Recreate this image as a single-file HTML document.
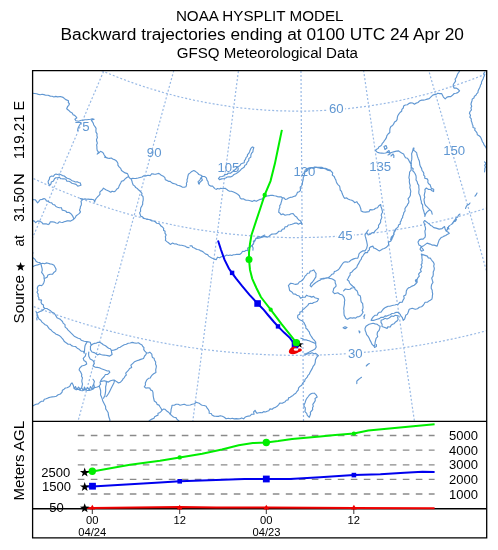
<!DOCTYPE html>
<html><head><meta charset="utf-8"><style>html,body{margin:0;padding:0;background:#fff}svg{display:block} svg{will-change:transform}</style></head><body>
<svg width="498" height="550" viewBox="0 0 498 550">
<defs><clipPath id="mc"><rect x="33" y="71" width="453" height="350"/></clipPath></defs>
<rect width="498" height="550" fill="#fff"/>
<g font-family="Liberation Sans, sans-serif" fill="#000">
<text x="175.9" y="21.4" font-size="15.2">NOAA HYSPLIT MODEL</text>
<text x="60.5" y="40" font-size="17.3">Backward trajectories ending at 0100 UTC 24 Apr 20</text>
<text x="176.8" y="58.2" font-size="15.1">GFSQ Meteorological Data</text>
</g>
<g clip-path="url(#mc)">
<path d="M-208.6,460.9 L-204,453.3 L-199.4,445.7 L-194.9,438.1 L-190.4,430.6 L-186,423.2 L-181.6,415.9 L-177.2,408.6 L-172.8,401.3 L-168.5,394.1 L-164.2,386.9 L-160,379.8 L-155.7,372.8 L-151.5,365.7 L-147.3,358.7 L-143.1,351.8 L-139,344.8 L-134.9,337.9 L-130.7,331.1 L-126.6,324.2 L-122.5,317.4 L-118.5,310.6 L-114.4,303.8 L-110.4,297.1 L-106.3,290.4 L-102.3,283.6 L-98.3,276.9 L-94.3,270.2 L-90.3,263.5 L-86.3,256.9 L-82.3,250.2 L-78.3,243.5 L-74.3,236.8 L-70.3,230.2 L-66.2,223.5 L-62.2,216.8 L-58.2,210.1 L-54.2,203.4 L-50.2,196.7 L-46.2,190 L-42.1,183.2 L-38.1,176.5 L-34,169.7 L-29.9,162.9 L-25.8,156.1 L-21.7,149.2 L-17.6,142.3 L-13.4,135.4 L-9.3,128.4 L-5.1,121.4 L-0.9,114.4 L3.4,107.3 L7.7,100.1 L12,93 L16.3,85.7 L20.7,78.4 L25.1,71 L29.6,63.6 L34.1,56 L38.7,48.4 L43.3,40.7 L48,32.9 L52.7,25 L57.5,17 L62.3,8.9 L67.3,0.7 L72.3,-7.7 L77.4,-16.2 L82.6,-24.8 L87.9,-33.6 L93.3,-42.6 L98.8,-51.8 L104.4,-61.2 L110.2,-70.9 L116.1,-80.8 L122.2,-90.9 L128.5,-101.4 L135,-112.2 L141.7,-123.4 L148.7,-135.1 L155.9,-147.2 L163.6,-160 L171.6,-173.4 L180.1,-187.6 L189.2,-202.8 L199.1,-219.3 M-88.7,522.1 L-85.1,513.8 L-81.7,505.7 L-78.2,497.6 L-74.8,489.6 L-71.4,481.6 L-68,473.8 L-64.7,465.9 L-61.4,458.1 L-58.1,450.4 L-54.8,442.7 L-51.6,435.1 L-48.3,427.5 L-45.1,420 L-41.9,412.5 L-38.7,405 L-35.6,397.6 L-32.4,390.2 L-29.3,382.8 L-26.1,375.5 L-23,368.2 L-19.9,360.9 L-16.8,353.6 L-13.7,346.4 L-10.6,339.2 L-7.6,331.9 L-4.5,324.8 L-1.4,317.6 L1.6,310.4 L4.7,303.2 L7.7,296.1 L10.8,288.9 L13.8,281.8 L16.9,274.6 L20,267.4 L23,260.3 L26.1,253.1 L29.1,245.9 L32.2,238.7 L35.3,231.5 L38.4,224.3 L41.5,217 L44.6,209.8 L47.7,202.5 L50.8,195.1 L53.9,187.8 L57.1,180.4 L60.2,173 L63.4,165.5 L66.6,158 L69.9,150.4 L73.1,142.8 L76.4,135.2 L79.7,127.5 L83,119.7 L86.3,111.8 L89.7,103.9 L93.1,95.9 L96.6,87.9 L100,79.7 L103.6,71.4 L107.1,63.1 L110.7,54.6 L114.4,46.1 L118.1,37.4 L121.9,28.5 L125.7,19.6 L129.6,10.4 L133.5,1.2 L137.6,-8.3 L141.7,-18 L145.9,-27.8 L150.2,-37.9 L154.6,-48.2 L159.1,-58.8 L163.8,-69.7 L168.6,-81 L173.5,-92.6 L178.6,-104.6 L184,-117.1 L189.5,-130.1 L195.3,-143.8 L201.5,-158.1 L208,-173.4 L214.9,-189.7 L222.5,-207.4 M38.5,566.3 L40.8,557.7 L43.2,549.1 L45.5,540.6 L47.8,532.2 L50,523.9 L52.3,515.6 L54.5,507.4 L56.8,499.2 L59,491.1 L61.2,483.1 L63.4,475.1 L65.5,467.1 L67.7,459.2 L69.8,451.3 L72,443.5 L74.1,435.7 L76.2,428 L78.3,420.2 L80.4,412.5 L82.5,404.9 L84.6,397.2 L86.7,389.6 L88.8,382 L90.8,374.5 L92.9,366.9 L94.9,359.3 L97,351.8 L99.1,344.3 L101.1,336.8 L103.2,329.3 L105.2,321.8 L107.3,314.2 L109.3,306.7 L111.3,299.2 L113.4,291.7 L115.5,284.2 L117.5,276.7 L119.6,269.1 L121.6,261.5 L123.7,254 L125.8,246.4 L127.9,238.7 L129.9,231.1 L132,223.4 L134.1,215.7 L136.3,207.9 L138.4,200.1 L140.5,192.3 L142.7,184.4 L144.8,176.5 L147,168.5 L149.2,160.5 L151.4,152.4 L153.6,144.3 L155.9,136 L158.1,127.7 L160.4,119.4 L162.7,110.9 L165.1,102.3 L167.4,93.7 L169.8,84.9 L172.3,76 L174.7,67 L177.2,57.9 L179.7,48.7 L182.3,39.3 L184.9,29.7 L187.6,20 L190.3,10 L193,-0.1 L195.8,-10.4 L198.7,-21 L201.7,-31.9 L204.7,-43 L207.8,-54.4 L211.1,-66.2 L214.4,-78.4 L217.8,-91 L221.4,-104.1 L225.1,-117.7 L229,-132 L233.1,-147.1 L237.5,-163.1 L242.2,-180.2 L247.2,-198.7 M170.5,592.8 L171.6,583.9 L172.8,575.1 L173.9,566.4 L175,557.8 L176.1,549.2 L177.2,540.7 L178.3,532.2 L179.4,523.8 L180.5,515.5 L181.6,507.2 L182.7,499 L183.7,490.8 L184.8,482.7 L185.8,474.6 L186.9,466.6 L187.9,458.6 L189,450.6 L190,442.6 L191,434.7 L192.1,426.9 L193.1,419 L194.1,411.2 L195.1,403.4 L196.1,395.6 L197.2,387.8 L198.2,380.1 L199.2,372.3 L200.2,364.6 L201.2,356.8 L202.2,349.1 L203.2,341.4 L204.2,333.7 L205.2,326 L206.2,318.3 L207.2,310.5 L208.2,302.8 L209.2,295.1 L210.3,287.3 L211.3,279.5 L212.3,271.7 L213.3,263.9 L214.3,256.1 L215.4,248.2 L216.4,240.3 L217.4,232.4 L218.5,224.4 L219.5,216.4 L220.5,208.4 L221.6,200.3 L222.7,192.1 L223.7,183.9 L224.8,175.7 L225.9,167.4 L227,159 L228.1,150.5 L229.2,142 L230.3,133.4 L231.5,124.7 L232.6,115.9 L233.8,107 L234.9,98 L236.1,88.8 L237.3,79.6 L238.5,70.2 L239.8,60.7 L241,51 L242.3,41.2 L243.6,31.2 L245,21 L246.3,10.6 L247.7,-0 L249.1,-10.9 L250.6,-22 L252.1,-33.5 L253.6,-45.2 L255.2,-57.3 L256.8,-69.9 L258.5,-82.8 L260.2,-96.3 L262.1,-110.3 L264,-125 L266,-140.5 L268.2,-157 L270.4,-174.6 L272.9,-193.6 M304.8,601 L304.7,592.1 L304.7,583.2 L304.6,574.4 L304.5,565.7 L304.5,557.1 L304.4,548.5 L304.4,540 L304.3,531.5 L304.2,523.1 L304.2,514.8 L304.1,506.5 L304.1,498.2 L304,490 L303.9,481.9 L303.9,473.7 L303.8,465.7 L303.8,457.6 L303.7,449.6 L303.7,441.6 L303.6,433.7 L303.5,425.8 L303.5,417.9 L303.4,410 L303.4,402.1 L303.3,394.3 L303.3,386.5 L303.2,378.7 L303.1,370.9 L303.1,363.1 L303,355.3 L303,347.5 L302.9,339.7 L302.9,332 L302.8,324.2 L302.8,316.4 L302.7,308.6 L302.6,300.8 L302.6,293 L302.5,285.1 L302.5,277.3 L302.4,269.4 L302.4,261.5 L302.3,253.5 L302.2,245.6 L302.2,237.6 L302.1,229.6 L302.1,221.5 L302,213.4 L302,205.2 L301.9,197 L301.8,188.7 L301.8,180.4 L301.7,172 L301.7,163.6 L301.6,155 L301.5,146.4 L301.5,137.7 L301.4,129 L301.3,120.1 L301.3,111.1 L301.2,102 L301.1,92.8 L301.1,83.5 L301,74.1 L300.9,64.5 L300.9,54.7 L300.8,44.8 L300.7,34.7 L300.7,24.4 L300.6,13.9 L300.5,3.2 L300.4,-7.8 L300.3,-19 L300.3,-30.5 L300.2,-42.4 L300.1,-54.6 L300,-67.2 L299.9,-80.3 L299.8,-93.9 L299.7,-108 L299.6,-122.9 L299.5,-138.5 L299.4,-155.1 L299.2,-172.8 L299.1,-192 M439,590.8 L437.7,582 L436.5,573.2 L435.2,564.5 L434,555.9 L432.7,547.3 L431.5,538.9 L430.3,530.4 L429,522.1 L427.8,513.7 L426.6,505.5 L425.5,497.3 L424.3,489.1 L423.1,481 L421.9,472.9 L420.8,464.9 L419.6,456.9 L418.4,448.9 L417.3,441 L416.2,433.1 L415,425.3 L413.9,417.4 L412.7,409.6 L411.6,401.8 L410.5,394 L409.4,386.3 L408.2,378.5 L407.1,370.8 L406,363.1 L404.9,355.4 L403.8,347.7 L402.6,340 L401.5,332.3 L400.4,324.6 L399.3,316.9 L398.2,309.2 L397.1,301.4 L395.9,293.7 L394.8,286 L393.7,278.2 L392.6,270.4 L391.4,262.6 L390.3,254.8 L389.2,247 L388,239.1 L386.9,231.2 L385.7,223.2 L384.6,215.2 L383.4,207.2 L382.2,199.1 L381,191 L379.9,182.8 L378.7,174.6 L377.5,166.3 L376.2,157.9 L375,149.5 L373.8,140.9 L372.5,132.3 L371.3,123.7 L370,114.9 L368.7,106 L367.4,97 L366.1,87.9 L364.8,78.7 L363.4,69.3 L362,59.8 L360.6,50.2 L359.2,40.4 L357.8,30.4 L356.3,20.2 L354.8,9.8 L353.2,-0.8 L351.7,-11.6 L350.1,-22.8 L348.4,-34.2 L346.7,-45.9 L344.9,-58 L343.1,-70.5 L341.3,-83.4 L339.3,-96.8 L337.3,-110.9 L335.1,-125.5 L332.9,-141 L330.5,-157.4 L328,-175 L325.2,-194 M570.6,562.5 L568.1,553.9 L565.7,545.4 L563.2,536.9 L560.8,528.5 L558.4,520.2 L556,512 L553.7,503.8 L551.3,495.7 L549,487.6 L546.7,479.6 L544.4,471.6 L542.1,463.7 L539.8,455.8 L537.6,448 L535.3,440.2 L533.1,432.4 L530.9,424.7 L528.7,417 L526.4,409.3 L524.2,401.7 L522,394.1 L519.9,386.5 L517.7,378.9 L515.5,371.4 L513.3,363.9 L511.2,356.3 L509,348.8 L506.8,341.3 L504.7,333.9 L502.5,326.4 L500.4,318.9 L498.2,311.4 L496,304 L493.9,296.5 L491.7,289 L489.6,281.5 L487.4,274 L485.2,266.5 L483.1,258.9 L480.9,251.4 L478.7,243.8 L476.5,236.2 L474.3,228.6 L472.1,221 L469.9,213.3 L467.7,205.5 L465.4,197.8 L463.2,190 L460.9,182.2 L458.6,174.3 L456.4,166.3 L454,158.3 L451.7,150.3 L449.4,142.1 L447,133.9 L444.6,125.7 L442.2,117.3 L439.8,108.9 L437.3,100.4 L434.8,91.7 L432.3,83 L429.8,74.2 L427.2,65.2 L424.6,56.1 L421.9,46.9 L419.2,37.5 L416.5,28 L413.7,18.3 L410.8,8.4 L407.9,-1.6 L404.9,-11.9 L401.9,-22.5 L398.8,-33.3 L395.6,-44.4 L392.3,-55.7 L388.9,-67.5 L385.4,-79.6 L381.8,-92.2 L378,-105.2 L374.1,-118.8 L370,-133.1 L365.7,-148.1 L361.1,-164 L356.2,-181 L350.9,-199.5 M697.1,516.4 L693.5,508.2 L689.9,500.1 L686.3,492.1 L682.8,484.1 L679.3,476.2 L675.8,468.4 L672.3,460.6 L668.9,452.9 L665.5,445.2 L662.1,437.6 L658.7,430 L655.4,422.4 L652.1,415 L648.8,407.5 L645.5,400.1 L642.2,392.7 L638.9,385.3 L635.7,378 L632.5,370.7 L629.2,363.5 L626,356.2 L622.8,349 L619.6,341.8 L616.4,334.6 L613.3,327.5 L610.1,320.3 L606.9,313.2 L603.8,306.1 L600.6,298.9 L597.4,291.8 L594.3,284.7 L591.1,277.6 L588,270.5 L584.8,263.4 L581.7,256.2 L578.5,249.1 L575.3,242 L572.2,234.8 L569,227.7 L565.8,220.5 L562.6,213.3 L559.4,206 L556.2,198.8 L552.9,191.5 L549.7,184.2 L546.4,176.9 L543.2,169.5 L539.9,162.1 L536.6,154.6 L533.2,147.1 L529.9,139.5 L526.5,131.9 L523.1,124.3 L519.7,116.5 L516.2,108.7 L512.7,100.9 L509.2,92.9 L505.6,84.9 L502,76.8 L498.4,68.6 L494.7,60.3 L491,51.9 L487.2,43.4 L483.4,34.7 L479.5,26 L475.5,17 L471.5,8 L467.4,-1.2 L463.2,-10.6 L459,-20.2 L454.6,-30 L450.2,-40.1 L445.6,-50.3 L441,-60.9 L436.2,-71.7 L431.2,-82.9 L426.1,-94.4 L420.8,-106.3 L415.3,-118.8 L409.5,-131.7 L403.5,-145.3 L397.2,-159.5 L390.5,-174.7 L383.3,-190.9 L375.5,-208.5 M-269.2,259.6 L-263.3,264.7 L-257.4,269.8 L-251.4,274.9 L-245.4,279.9 L-239.3,284.8 L-233.2,289.6 L-227,294.5 L-220.8,299.2 L-214.6,303.9 L-208.3,308.6 L-202,313.1 L-195.6,317.7 L-189.2,322.1 L-182.7,326.6 L-176.2,330.9 L-169.7,335.2 L-163.1,339.4 L-156.5,343.6 L-149.8,347.7 L-143.1,351.8 L-136.4,355.8 L-129.7,359.7 L-122.9,363.5 L-116,367.4 L-109.2,371.1 L-102.3,374.8 L-95.3,378.4 L-88.4,381.9 L-81.4,385.4 L-74.3,388.9 L-67.3,392.2 L-60.2,395.5 L-53.1,398.7 L-45.9,401.9 L-38.7,405 L-31.5,408 L-24.3,411 L-17,413.9 L-9.7,416.8 L-2.4,419.5 L4.9,422.2 L12.3,424.9 L19.7,427.4 L27.1,429.9 L34.5,432.4 L42,434.7 L49.4,437 L56.9,439.3 L64.4,441.4 L72,443.5 L79.5,445.5 L87.1,447.5 L94.7,449.4 L102.3,451.2 L109.9,452.9 L117.6,454.6 L125.2,456.2 L132.9,457.8 L140.6,459.2 L148.3,460.6 L156,462 L163.7,463.2 L171.4,464.4 L179.1,465.5 L186.9,466.6 L194.7,467.5 L202.4,468.5 L210.2,469.3 L218,470 L225.8,470.7 L233.6,471.4 L241.4,471.9 L249.2,472.4 L257,472.8 L264.8,473.1 L272.6,473.4 L280.4,473.6 L288.2,473.7 L296.1,473.8 L303.9,473.7 L311.7,473.6 L319.5,473.5 L327.3,473.2 L335.2,472.9 L343,472.6 L350.8,472.1 L358.6,471.6 L366.4,471 L374.2,470.3 L382,469.6 L389.7,468.8 L397.5,467.9 L405.3,467 L413,466 L420.8,464.9 L428.5,463.7 L436.2,462.5 L443.9,461.2 L451.6,459.8 L459.3,458.4 L467,456.9 L474.6,455.3 L482.3,453.7 L489.9,451.9 L497.5,450.2 L505.1,448.3 L512.7,446.4 L520.3,444.4 L527.8,442.3 L535.3,440.2 L542.8,438 L550.3,435.7 L557.8,433.4 L565.2,431 L572.6,428.5 L580,426 L587.4,423.3 L594.8,420.7 L602.1,417.9 L609.4,415.1 L616.7,412.2 L623.9,409.3 L631.1,406.3 L638.3,403.2 L645.5,400.1 L652.6,396.9 L659.7,393.6 L666.8,390.3 L673.8,386.9 L680.8,383.4 L687.8,379.9 L694.8,376.3 L701.7,372.6 L708.6,368.9 L715.4,365.2 L722.2,361.3 L729,357.4 L735.7,353.4 L742.4,349.4 L749.1,345.3 L755.7,341.2 L762.3,337 L768.9,332.7 L775.4,328.4 L781.9,324 L788.3,319.6 L794.7,315.1 L801.1,310.5 L807.4,305.9 L813.6,301.2 L819.9,296.5 L826,291.7 L832.2,286.8 L838.3,281.9 L844.3,277 L850.3,272 L856.3,266.9 L862.2,261.8 L868,256.6 L873.9,251.4 M-190.9,170.7 L-185.9,175.2 L-180.7,179.6 L-175.6,183.9 L-170.4,188.2 L-165.1,192.4 L-159.9,196.6 L-154.6,200.8 L-149.2,204.9 L-143.8,208.9 L-138.4,212.9 L-132.9,216.9 L-127.4,220.8 L-121.9,224.6 L-116.4,228.5 L-110.8,232.2 L-105.1,235.9 L-99.4,239.5 L-93.7,243.1 L-88,246.7 L-82.3,250.2 L-76.5,253.6 L-70.6,257 L-64.8,260.3 L-58.9,263.6 L-53,266.8 L-47,270 L-41,273.1 L-35,276.2 L-29,279.2 L-22.9,282.1 L-16.9,285 L-10.7,287.9 L-4.6,290.7 L1.6,293.4 L7.7,296.1 L14,298.7 L20.2,301.2 L26.4,303.7 L32.7,306.2 L39,308.6 L45.4,310.9 L51.7,313.2 L58.1,315.4 L64.5,317.6 L70.9,319.7 L77.3,321.7 L83.7,323.7 L90.2,325.6 L96.7,327.5 L103.2,329.3 L109.7,331 L116.2,332.7 L122.7,334.3 L129.3,335.9 L135.9,337.4 L142.4,338.8 L149,340.2 L155.6,341.5 L162.3,342.8 L168.9,344 L175.5,345.2 L182.2,346.2 L188.9,347.3 L195.5,348.2 L202.2,349.1 L208.9,350 L215.6,350.8 L222.3,351.5 L229,352.1 L235.7,352.7 L242.4,353.3 L249.1,353.7 L255.9,354.1 L262.6,354.5 L269.3,354.8 L276.1,355 L282.8,355.2 L289.6,355.3 L296.3,355.3 L303,355.3 L309.8,355.2 L316.5,355.1 L323.2,354.9 L330,354.6 L336.7,354.3 L343.4,353.9 L350.2,353.5 L356.9,353 L363.6,352.4 L370.3,351.8 L377,351.1 L383.7,350.3 L390.4,349.5 L397.1,348.6 L403.8,347.7 L410.4,346.7 L417.1,345.6 L423.7,344.5 L430.4,343.3 L437,342.1 L443.6,340.8 L450.2,339.4 L456.8,338 L463.4,336.5 L469.9,335 L476.5,333.4 L483,331.7 L489.5,330 L496,328.2 L502.5,326.4 L509,324.5 L515.4,322.5 L521.9,320.5 L528.3,318.4 L534.7,316.3 L541,314.1 L547.4,311.9 L553.7,309.6 L560,307.2 L566.3,304.8 L572.6,302.3 L578.8,299.8 L585.1,297.2 L591.3,294.5 L597.4,291.8 L603.6,289.1 L609.7,286.2 L615.8,283.4 L621.9,280.4 L627.9,277.5 L633.9,274.4 L639.9,271.3 L645.9,268.2 L651.8,265 L657.7,261.7 L663.6,258.4 L669.4,255 L675.2,251.6 L681,248.2 L686.8,244.6 L692.5,241.1 L698.2,237.4 L703.8,233.8 L709.4,230 L715,226.3 L720.5,222.4 L726.1,218.5 L731.5,214.6 L737,210.6 L742.4,206.6 L747.7,202.5 L753.1,198.4 L758.4,194.2 L763.6,190 L768.8,185.7 L774,181.4 L779.1,177 L784.2,172.6 L789.3,168.2 L794.3,163.7 M-113.1,82.4 L-108.8,86.1 L-104.5,89.8 L-100.2,93.5 L-95.8,97.1 L-91.4,100.7 L-87,104.2 L-82.5,107.7 L-78,111.1 L-73.5,114.5 L-68.9,117.9 L-64.3,121.2 L-59.7,124.5 L-55.1,127.7 L-50.4,130.9 L-45.7,134.1 L-41,137.2 L-36.2,140.3 L-31.4,143.3 L-26.6,146.3 L-21.7,149.2 L-16.9,152.1 L-12,154.9 L-7,157.7 L-2.1,160.5 L2.9,163.2 L7.9,165.9 L12.9,168.5 L18,171.1 L23,173.6 L28.1,176.1 L33.3,178.5 L38.4,180.9 L43.5,183.2 L48.7,185.5 L53.9,187.8 L59.2,190 L64.4,192.1 L69.7,194.2 L74.9,196.3 L80.2,198.3 L85.6,200.3 L90.9,202.2 L96.2,204 L101.6,205.8 L107,207.6 L112.4,209.3 L117.8,211 L123.2,212.6 L128.7,214.2 L134.1,215.7 L139.6,217.2 L145.1,218.6 L150.6,219.9 L156.1,221.3 L161.6,222.5 L167.2,223.7 L172.7,224.9 L178.3,226 L183.8,227.1 L189.4,228.1 L195,229.1 L200.6,230 L206.2,230.8 L211.8,231.6 L217.4,232.4 L223,233.1 L228.7,233.8 L234.3,234.4 L239.9,234.9 L245.6,235.4 L251.2,235.9 L256.9,236.3 L262.5,236.6 L268.2,236.9 L273.9,237.1 L279.5,237.3 L285.2,237.5 L290.9,237.6 L296.5,237.6 L302.2,237.6 L307.9,237.5 L313.5,237.4 L319.2,237.2 L324.8,237 L330.5,236.7 L336.2,236.4 L341.8,236 L347.5,235.6 L353.1,235.1 L358.8,234.6 L364.4,234 L370,233.4 L375.6,232.7 L381.3,232 L386.9,231.2 L392.5,230.3 L398.1,229.4 L403.7,228.5 L409.2,227.5 L414.8,226.5 L420.4,225.4 L425.9,224.2 L431.5,223 L437,221.8 L442.5,220.5 L448,219.1 L453.5,217.8 L459,216.3 L464.4,214.8 L469.9,213.3 L475.3,211.7 L480.8,210 L486.2,208.3 L491.6,206.6 L496.9,204.8 L502.3,203 L507.6,201.1 L513,199.1 L518.3,197.1 L523.5,195.1 L528.8,193 L534.1,190.9 L539.3,188.7 L544.5,186.5 L549.7,184.2 L554.9,181.9 L560,179.5 L565.1,177.1 L570.2,174.6 L575.3,172.1 L580.4,169.6 L585.4,167 L590.4,164.3 L595.4,161.6 L600.4,158.9 L605.3,156.1 L610.2,153.3 L615.1,150.4 L620,147.5 L624.8,144.5 L629.6,141.5 L634.4,138.5 L639.1,135.4 L643.8,132.3 L648.5,129.1 L653.2,125.9 L657.8,122.6 L662.4,119.3 L667,116 L671.5,112.6 L676.1,109.1 L680.5,105.7 L685,102.2 L689.4,98.6 L693.8,95 L698.1,91.4 L702.4,87.7 L706.7,84 L711,80.2 L715.2,76.5 M-29.5,-12.5 L-26.1,-9.5 L-22.7,-6.6 L-19.2,-3.7 L-15.7,-0.8 L-12.2,2.1 L-8.7,4.9 L-5.1,7.6 L-1.5,10.4 L2.1,13.1 L5.7,15.8 L9.4,18.4 L13,21 L16.7,23.6 L20.5,26.2 L24.2,28.7 L28,31.2 L31.8,33.6 L35.6,36 L39.4,38.4 L43.3,40.7 L47.2,43 L51.1,45.3 L55,47.5 L58.9,49.7 L62.9,51.9 L66.9,54 L70.9,56.1 L74.9,58.1 L78.9,60.1 L83,62.1 L87.1,64.1 L91.2,66 L95.3,67.8 L99.4,69.7 L103.6,71.4 L107.7,73.2 L111.9,74.9 L116.1,76.6 L120.3,78.2 L124.5,79.8 L128.7,81.4 L133,82.9 L137.2,84.4 L141.5,85.8 L145.8,87.2 L150.1,88.6 L154.4,89.9 L158.8,91.2 L163.1,92.5 L167.4,93.7 L171.8,94.8 L176.2,96 L180.5,97.1 L184.9,98.1 L189.3,99.1 L193.7,100.1 L198.2,101 L202.6,101.9 L207,102.7 L211.5,103.5 L215.9,104.3 L220.4,105 L224.8,105.7 L229.3,106.4 L233.8,107 L238.2,107.5 L242.7,108.1 L247.2,108.5 L251.7,109 L256.2,109.4 L260.7,109.7 L265.2,110.1 L269.7,110.3 L274.2,110.6 L278.7,110.8 L283.2,110.9 L287.7,111 L292.2,111.1 L296.8,111.1 L301.3,111.1 L305.8,111.1 L310.3,111 L314.8,110.8 L319.3,110.7 L323.8,110.4 L328.3,110.2 L332.8,109.9 L337.3,109.5 L341.8,109.2 L346.3,108.7 L350.8,108.3 L355.3,107.8 L359.8,107.2 L364.3,106.6 L368.7,106 L373.2,105.3 L377.6,104.6 L382.1,103.9 L386.5,103.1 L391,102.3 L395.4,101.4 L399.8,100.5 L404.2,99.5 L408.6,98.5 L413,97.5 L417.4,96.4 L421.8,95.3 L426.2,94.2 L430.5,93 L434.8,91.7 L439.2,90.5 L443.5,89.2 L447.8,87.8 L452.1,86.4 L456.4,85 L460.6,83.5 L464.9,82 L469.1,80.5 L473.4,78.9 L477.6,77.3 L481.8,75.6 L486,73.9 L490.1,72.2 L494.3,70.4 L498.4,68.6 L502.5,66.8 L506.6,64.9 L510.7,62.9 L514.8,61 L518.8,59 L522.8,56.9 L526.9,54.9 L530.8,52.8 L534.8,50.6 L538.8,48.4 L542.7,46.2 L546.6,44 L550.5,41.7 L554.4,39.4 L558.2,37 L562,34.6 L565.8,32.2 L569.6,29.7 L573.4,27.2 L577.1,24.7 L580.8,22.1 L584.5,19.5 L588.2,16.9 L591.8,14.2 L595.5,11.5 L599,8.8 L602.6,6 L606.2,3.2 L609.7,0.4 L613.2,-2.4 L616.6,-5.3 L620.1,-8.3 L623.5,-11.2 L626.9,-14.2 L630.2,-17.2 M72,-127.6 L74.4,-125.6 L76.7,-123.6 L79.1,-121.6 L81.5,-119.6 L83.9,-117.6 L86.4,-115.7 L88.8,-113.8 L91.3,-111.9 L93.8,-110 L96.3,-108.1 L98.8,-106.3 L101.3,-104.5 L103.9,-102.7 L106.5,-101 L109,-99.2 L111.6,-97.5 L114.3,-95.9 L116.9,-94.2 L119.5,-92.6 L122.2,-90.9 L124.9,-89.4 L127.6,-87.8 L130.3,-86.2 L133,-84.7 L135.7,-83.2 L138.5,-81.8 L141.2,-80.3 L144,-78.9 L146.8,-77.5 L149.6,-76.2 L152.4,-74.8 L155.2,-73.5 L158.1,-72.2 L160.9,-71 L163.8,-69.7 L166.6,-68.5 L169.5,-67.4 L172.4,-66.2 L175.3,-65.1 L178.2,-64 L181.1,-62.9 L184.1,-61.8 L187,-60.8 L190,-59.8 L192.9,-58.9 L195.9,-57.9 L198.9,-57 L201.9,-56.1 L204.8,-55.2 L207.8,-54.4 L210.9,-53.6 L213.9,-52.8 L216.9,-52.1 L219.9,-51.4 L223,-50.7 L226,-50 L229,-49.4 L232.1,-48.7 L235.1,-48.2 L238.2,-47.6 L241.3,-47.1 L244.4,-46.6 L247.4,-46.1 L250.5,-45.7 L253.6,-45.2 L256.7,-44.8 L259.8,-44.5 L262.9,-44.2 L266,-43.9 L269.1,-43.6 L272.2,-43.3 L275.3,-43.1 L278.4,-42.9 L281.5,-42.8 L284.6,-42.6 L287.7,-42.5 L290.8,-42.4 L293.9,-42.4 L297.1,-42.4 L300.2,-42.4 L303.3,-42.4 L306.4,-42.5 L309.5,-42.6 L312.6,-42.7 L315.7,-42.8 L318.8,-43 L321.9,-43.2 L325,-43.5 L328.1,-43.7 L331.2,-44 L334.3,-44.3 L337.4,-44.7 L340.5,-45.1 L343.6,-45.5 L346.7,-45.9 L349.8,-46.4 L352.9,-46.9 L355.9,-47.4 L359,-47.9 L362,-48.5 L365.1,-49.1 L368.1,-49.7 L371.2,-50.4 L374.2,-51.1 L377.3,-51.8 L380.3,-52.5 L383.3,-53.3 L386.3,-54.1 L389.3,-54.9 L392.3,-55.7 L395.3,-56.6 L398.3,-57.5 L401.2,-58.5 L404.2,-59.4 L407.2,-60.4 L410.1,-61.4 L413,-62.4 L416,-63.5 L418.9,-64.6 L421.8,-65.7 L424.7,-66.9 L427.6,-68 L430.4,-69.2 L433.3,-70.5 L436.2,-71.7 L439,-73 L441.8,-74.3 L444.6,-75.6 L447.4,-77 L450.2,-78.3 L453,-79.7 L455.8,-81.2 L458.5,-82.6 L461.3,-84.1 L464,-85.6 L466.7,-87.1 L469.4,-88.7 L472.1,-90.3 L474.8,-91.9 L477.4,-93.5 L480.1,-95.1 L482.7,-96.8 L485.3,-98.5 L487.9,-100.2 L490.5,-102 L493,-103.8 L495.6,-105.6 L498.1,-107.4 L500.6,-109.2 L503.1,-111.1 L505.6,-113 L508,-114.9 L510.5,-116.8 L512.9,-118.7 L515.3,-120.7 L517.7,-122.7 L520.1,-124.7 L522.4,-126.8 L524.8,-128.8 L527.1,-130.9" fill="none" stroke="#98b9e5" stroke-width="1.2" stroke-dasharray="2 2"/>
<path d="M32.9,93.2 L34.7,93.5 L36.6,93.8 L38.4,94.4 L40.2,94.7 L42.1,94.3 L43.9,94.6 L45.7,95.2 L48.1,95.2 L50.3,96.1 L52.2,96.3 L53.9,97 L55.7,96.4 L57.6,96.9 L60.3,96.5 L63.1,97.4 L64.4,98.5 L65.8,99.6 L68.5,100.7 L68.3,102.5 L69.5,103.8 L68.8,105.3 L67.6,106.5 L66.7,108.7 L68.5,110.2 L70.4,112 L72.2,112.9 L73.1,114.8 L74.7,115.4 L75.9,116.6 L76.8,117.9 L74.9,119.3 L75.9,120.8 L78.6,121.2 L81.3,120.3 L83.2,120.2 L85,119.7 L86.8,119.8 L88.7,119.5 L90.5,119.3 L92.3,118.8 L94.1,119.3 L91.4,120.3 L92.3,121.6 L93.2,123 L93.8,125 L95,126.6 L96.1,128.4 L95.9,130.3 L96,132.1 L97.1,133.9 L96.9,135.7 L97.4,137.5 L96.5,139.4 L96.7,141.3 L97.4,143.1 L96.6,144.9 L96.9,146.7 L96.9,148.6 L97.2,150.4 L98.5,152.2 L97.2,154.1 L98.7,153.1 L100.5,151.3 L102.4,152.2 L103.5,153.4 L104.2,155 L106,157.3 M104.6,157.2 L106.3,157.6 L107.8,158.1 L109.5,158.4 L111.3,158 L112.7,159 L114.3,159.6 L115.9,160.5 L117,161.7 L117.9,163.3 L117.9,165.2 L119.1,166.9 L120.7,168.4 L121.5,170.5 L123.3,171.7 L125.1,172.9 L127.5,173.6 L128.7,176.5 L129.6,178.1 L131.1,178.9 M131.1,178.9 L132.7,178.4 L134.4,178.5 L136,178.4 L138,178 L140,177.5 L142,177 L143.8,175.8 L146,175.9 L148,175.3 L150.2,175.6 L151.9,173.7 L154,174.1 L155.7,174.3 L157.3,173.7 L158.9,173.4 L161.3,175.3 L163.3,176.2 L164.9,177.7 L165.3,179.7 L167,180.4 L168.5,181.3 L170.2,181.3 L171.5,182.6 L172.9,183.4 L174.5,183.7 L176.1,184.2 L177.4,185.3 L179,185.5 L180.5,186.1 L182.2,187.1 L184.2,187.3 L185.9,186.7 L186.6,184.9 L186.4,183.2 L187.2,181.6 L187,179.8 L187.6,178.2 L187.8,176.5 L188.4,174.3 L190.2,172.9 L191.8,171.4 L193.8,170.5 L195.7,171.6 L197.4,172.9 L198.9,174.5 L201,175.3 L202.6,176.5 L204.6,176.5 L206.4,177.9 L207,180.1 L208.1,181.8 L208.3,183.7 L209.2,185.2 L210.7,186.1 L212.6,186 L213.7,187.5 L215,188.6 M131.1,178.9 L131.8,180.7 L132.3,182.5 L133,184.7 L134.8,186.1 L135.7,187.6 L137.3,188.4 L138.4,189.8 L139.7,190.8 L140.9,192.1 L142,193.4 L141.6,195.2 L143,196.5 L143.2,198.2 L143.2,200.2 L142.7,202.2 L142.7,204.2 L141.8,206.1 L140.8,207.8 L140.5,209.5 L140.6,211.2 L139.6,212.7 L140.2,214.5 L140.8,216.3 L142.5,216.9 L143.7,218.4 L145.6,218.7 L147.1,219.4 L148.8,219.5 L150.4,219.9 L151.9,220.9 L153.7,221 L155.2,221.8 L156.8,223.2 L158.9,223.5 L160.1,224.7 L161,226.1 L162.5,227.1 L163.7,228.4 L163.5,230.2 L165.1,231.3 L164.9,233.1 L166.1,234.9 L165.3,236.7 L165.7,238.5 L165.4,240.4 L166.9,241.6 L168.5,242.8 L170.3,244.4 L172.6,243.1 L174.5,244 L176.4,243.9 L178.1,244.7 L179.9,245.1 L181.7,245.2 L183.6,245.7 L185.4,246.3 L187,247.4 L189,247.6 M128.7,176.5 L126.8,177.5 L125.1,178.9 L123.6,180.6 L121.5,181.3 L120.7,183 L119.9,184.5 L119.1,186.1 L118.4,188.1 L116.6,189.3 L115.5,191 L114,191.8 L112.1,191.2 L110.7,192.2 L109.1,191.3 L107.5,190.5 L105.8,189.8 L103.4,188.1 L102.5,189.7 L101.1,190.8 L99.8,192.2 L100,194.3 L98.8,195.7 L97.4,197 L96,198.7 L95,200.6 M198.6,183.7 L198.1,181.6 L199.8,180.1 L201,177.7 L202.2,176.5 L201.4,178 L202.4,180 L201,181.3 L199.7,182.5 L199.1,184.2 M216,189.4 L217.5,188.5 L219.3,189 L220.8,188.2 L222.8,188.7 L225,188.2 L226.9,189.4 L228.1,190.6 L229.6,191.3 L231.4,191.2 L232.9,191.8 L234.6,192.5 L236.1,193.3 L237.7,194.2 L239.4,195.7 L240.1,197.8 L241.4,199 L243.2,198.8 L244.6,199.6 L246.1,200.2 L248.2,200.2 L250.2,200.7 L252.2,201.4 L254,200.4 L256.3,201.3 L258.2,200.2 L259.8,199.4 L261.6,199.1 L263,197.8 L264.6,197.2 L266.1,196.2 L267.8,195.9 L269.4,195.6 L271,195.3 L272.7,195.4 L274.3,195.8 L275.9,196 L277.5,196.6 L279.1,196.9 L280.9,196.7 L282.3,197.8 L284,197.8 L285.3,199.5 L287.1,199 L288.6,198.1 L290.1,197.4 L291.9,197.3 L293.6,196.5 L295.6,195.9 L296.7,194.2 L297.4,192.4 L299.1,191.7 L300.4,190.6 L300.4,188.9 L300.2,187.2 L301.6,185.8 L302.4,184.3 L302.4,182.6 L302.8,181 L303.2,179.4 L303.2,177.7 L304,176.1 L304.6,174.2 L304.5,172.1 L305.2,170.1 L306.7,169.4 L308,168.3 L309.5,167.7 L311.2,167.7 L312.9,168.2 L314.4,167 L316,167 L317.6,167.6 L319.2,167.9 L320.8,168.4 L322.5,168.4 L324.1,168.5 L325.7,168.9 L327.7,170.2 L330,170.8 M282.3,197.8 L282,199.5 L281.6,201.1 L281.1,202.7 L280.7,204.3 L279.7,205.7 L279.9,207.5 L279.1,209 L278.9,210.6 L278.7,212.3 L280.1,213.3 L281.1,214.7 L283.1,213.9 L285.1,215.2 L287.1,214.7 L289.2,214.8 L291.1,213.8 L293.1,213.5 L294.1,214.9 L295.2,216.2 L296.7,217.1 L297.6,218.6 L298.8,219.9 L300.4,220.7 L301.4,222.4 L302,224.3 L300.5,223.1 L298.4,224.2 L296.7,223.1 L295,223.1 L293.5,223.7 L291.9,224.3 L290.1,224.7 L288.3,225 L287.1,226.7 L285.1,226.8 L284.2,228.9 L282.3,229.2 L281.2,231.1 L278.8,231.2 L277.5,232.8 L275.8,233.9 L273.9,234 L271.9,234.1 L270.2,235.2 L268.9,236.5 L267.3,237.1 L265.4,236.4 L263.8,236.6 L262.2,237.2 L260.6,237.6 L259,238.1 L257.4,238.4 L255.8,238.8 L254.9,240.3 L253.4,241.2 L253.8,243 L252.7,244.4 L252.2,246 L253.1,248 L252.9,250.1 M190,245.8 L191.9,245.8 L192.8,247.5 L194.4,248 L195.7,248.9 L197.2,249.5 L198.9,249.7 L200.3,250.6 L201.8,251.1 L203.2,251.9 L204.5,253.1 L205.8,254.1 L207.6,254.6 L208.7,256.1 L210.1,257.1 L211.7,257.9 L214.1,259.1 L216.3,259.6 L217.5,257.2 L219.7,257.8 L221.3,256.7 L223.1,256.3 L224.9,256.1 L226.6,255 L228.6,255.5 L230.1,255 L231.8,255.5 L233.4,254.8 L235,254.7 L236.6,254.3 L238.2,254.3 L240,254.3 L241.4,253.1 L242.6,251.3 L244.5,251.5 L245.8,250.3 L247.8,250.7 L247.6,248 L250,247.3 L251.4,245.8 L253.3,244.4 L253.9,242.2 L255.1,240.6 L255.7,238.6 L257.5,237.4 L259,236.5 L260.8,237.2 L262.3,236.2 L264.7,235 M368.2,230 L366.6,232.4 L365,234.8 L365.3,236.4 L365.8,238 L366.2,239.6 L366.6,241.2 L367,243.2 L367.4,245.3 L367,246.9 L366.6,248.5 L365,250.9 L362.6,250.9 L360.2,252.5 L359,253.9 L358.6,255.7 L357.8,258.1 L355.7,258.2 L353.7,258.9 L352.1,259.6 L350.5,260.5 L349.2,261.8 L347.3,262.1 L345.7,261.8 L344.1,262.1 L342.5,263.7 L340.9,266.1 L339.3,268.6 L337.9,270.1 L336.1,271 L334.3,271.6 L333.8,273.7 L332,274.2 L330.5,275.8 L328.8,277.4 L326.4,278.2 L324.8,278.2 L323.2,278.2 L321.8,279.3 L320,279 M370.6,246.9 L373,246.1 L373.5,247.9 L375.4,248.5 L377.8,250.1 L379.4,250.9 L381,250.1 L382.5,249 L384.3,248.5 L386.1,247.6 L387.5,246.1 L388.7,244.6 L388.4,242.1 L390.7,241.2 L391.6,239.7 L392.3,238 L393.1,236.4 L393.7,234.8 L393.7,233 L394.8,231.6 L395.5,230 M308.9,303.7 L310.5,303.2 L312.3,303.5 L313.7,302.5 L315.6,302 L317.3,301.3 L318.6,298.9 L316.7,298.3 L314.9,297.7 L313.5,296.4 L311.7,297.1 L310.1,296.4 L308.2,296 L306.5,295.2 L305.2,297.1 L302.9,297.2 L300.5,298.1 L299.2,296 L296.9,295.2 L295.2,294.1 L293.3,294 L292.4,292.5 L291.1,291.4 L289.6,290.4 L289.3,288.8 L289,287.2 L288.4,285.6 L289.5,284.3 L290.8,283.2 L292.5,283.5 L294,284 L295.7,284.4 L297.9,283.9 L299.3,282 L301.3,281 L302.9,279.6 L304.1,278 L305,276.2 L306.5,274.8 L307.5,273.3 L309.5,273 L310.1,271.1 L312,270.8 L313.7,269.9 L314.9,271.8 L316.1,273.6 L315.9,275.2 L315.9,276.9 L314.9,278.4 L313.8,280.2 L312.5,282 L310.9,283.5 L310.1,285.6 L311.3,286.8 L312.4,285.4 L313.6,284.3 L314.9,283.2 L316.7,281.9 L318.6,280.8 L320.2,280.2 L321.4,278.7 L323.4,278.9 L325,278.4 L326.5,277.8 L328.2,277.9 M370.6,246.8 L369.4,248 L369.4,249.9 L368,251 L367.5,252.6 L365.5,252.5 L364.1,254 L363,255.8 L361.7,257.4 L361.3,259.1 L360.2,260.5 L359.3,262.1 L358.6,263.7 L357.4,265.4 L356.8,267.4 L355.2,268.7 L353.4,270.1 L352,271.9 L350.1,272.9 L350.1,275.2 L348.9,276.7 L348.2,278.3 L347.2,279.8 L348.9,281 L349.6,283 L351.1,284.8 L352.8,286.3 L354.5,287.5 L355.2,289.5 L357,290.8 L357.8,292.8 L358.2,294.8 L360.2,295.8 L360.7,297.7 L360.8,299.8 L361.2,301.9 L362.7,303.7 L362.8,305.5 L363.1,307.3 L362.8,308.9 L362.1,310.5 L363.1,312.1 L362,314 L360.7,315.7 L359,316.6 L357.1,316.9 L355.7,318.1 L353.9,317.7 L352.3,318.1 L350.5,317.7 L348.9,318.4 L347.5,319.3 L345.9,318.5 L345.1,316.9 L344.2,315.4 L344,313.8 L343.9,312.1 L344,310.5 L343.7,308.9 L343.9,307.3 L344.2,305.5 L344.5,303.7 L344.4,301.8 L344.8,300.1 L344.1,297.4 L342.4,295 L340,294.3 L337.8,292.8 L336.1,293.2 L334.5,293.6 L332.8,291.9 L333.4,290.2 L333.7,288.5 L334.9,287.3 L336.1,286.1 L335.9,284.4 L335.2,283 L335.1,280.8 L333.3,279.6 L331.7,278.7 L329.9,278.4 L328.2,277.9 M343.1,327.8 L345.1,326.8 L347,327.5 L345.1,328.7 L343.1,327.8 M359,330.9 L360,331.9 L359.5,332.8 L359,330.9 M218.5,178.6 L219.8,176.8 L222,176.5 L223.7,176 L224.9,174.2 L227,174.5 L228.3,173 L230.5,173.3 L232,172 L233.6,171.3 L234.6,169.9 L236,169 L236.7,167.1 L238.5,166.5 L240,165.5 L240.8,164 L242.5,163.3 L244.2,162.7 L244.4,160.7 L245.5,159.3 L246,157.6 L247.3,156.4 L247.5,154.6 L248.7,153.5 L249.5,152 L250.1,150.2 L250.9,148.4 L252.4,146.9 L253.8,147.6 L253.1,149.8 L252.9,151.8 L251.6,153.2 L250.9,154.9 L250.8,157.1 L248.9,158.5 L248.7,160.7 L247.1,162.3 L246.5,164.4 L244.9,165.2 L244.3,167 L242.9,168 L241.4,169 L240.3,170.4 L239,171.5 L237.4,172.7 L235.8,173.7 L234,174.5 L232.6,175.9 L231,176.8 L229,176.8 L227.2,177 L225.7,178 L224,178.5 L221.7,178.9 L219.5,179.6 L218.5,178.6 M32,198.1 L33,199.7 L35.4,199.8 L36.5,201.4 L37.6,202.9 L38.9,201.4 L40,199.7 L42.1,199.4 L44,198.6 L45.5,199.3 L46.4,200.9 L48.1,201.3 L49.6,202.5 L51.7,202.9 L52.9,204.5 L54.7,204.9 L55.9,206.5 L57.6,207.2 L59.3,207.8 L61.4,207.7 L62.2,210.1 L64,210.5 L65.7,211 L67,212.5 L69.1,212.4 L70.6,213.4 L71.9,214.9 L73,216.6 L73.8,219 M32,221.4 L33.8,220.7 L35.7,222.6 L37.4,221.1 L39.2,221.1 L41.6,222.2 L42.9,223.8 L44.9,223.8 L46.6,223.9 L48.1,224.6 L49.5,223.7 L50.2,221.9 L52.1,221.7 L54.2,222.1 L56.1,223 L57.8,223.3 L59.2,221.8 L60.9,222.2 L62.6,222.5 L64.1,221.8 L65.7,221.4 L67.3,220.7 L68.9,220.9 L70.6,221.1 L73,219.8 L73.8,219 M95,200.6 L94.7,202.1 L93.8,199.7 L91.4,199.2 L89.8,199.4 L88.2,199.1 L86.6,199.3 L85,198.9 L83.4,199.3 L81.8,198.9 L80.2,198.6 L82.6,199.7 L81,201.3 L81.4,203.2 L81.3,205 L80.4,206.8 L80.2,208.6 L79.5,210.1 L80.5,211.9 L79.4,213.4 L77.8,214.6 L76.2,215.8 L75.3,217.6 L73.8,219 M49.7,185.3 L48.4,183.4 L48.1,181.2 L49.3,179.4 L49.7,177.2 L51.2,176.1 L53.3,176.3 L54.5,174.8 L56,174.1 L57.7,174.5 L59.3,174 L61,174.7 L62.5,175.6 L64.3,176 L65.7,177.2 L67.2,178.3 L69,178.7 L70.6,179.6 L72.1,180.7 L73.8,181.2 L75.4,182 L77.1,181.7 L78.6,182.5 L80.2,182.9 L81,185.3 L79.4,185.7 L77.8,186.1 L76.1,184.4 L73.8,183.7 L71.9,183.3 L70.5,182.1 L68.9,181.2 L66.9,181.2 L65.9,179.3 L64.1,178.8 L62.3,178.8 L60.6,178.7 L59.3,177.2 L57.7,177.8 L55.9,177.7 L54.5,178.8 L53.5,181 L51.3,182 L51,183.9 L49.7,185.3 M32,257.1 L33.6,258.2 L35.1,259.4 L36,261.2 L37.6,262.3 L39.5,262.5 L41,263.8 L42.7,263.3 L44.6,263.8 L46.3,262.9 L48.1,263.2 L50,263.9 L52.1,264.2 L54,265.3 L55.1,267.2 L56.1,269.2 L55.7,271.1 L54.1,272.2 L52.6,274.1 L50.1,274.2 L47.9,275 L47.1,277.2 L45,278.2 M32,267.2 L33.9,266 L36,265.2 L37.7,264.9 L39.3,264.3 L41,263.8 M41,263.8 L41.4,266 L42,268.2 L42.3,270.2 L41.6,272.4 L43,274.2 L44.1,276.1 L44,278.2 L44.5,280.4 L43.9,282.4 L43,284.3 L41.6,285.6 L39.5,285.3 L38,286.3 L37.2,288.2 L37.9,290.4 L37,292.3 L38.2,294.1 L38,296.3 L38.9,297.7 L38.8,299.6 L41.6,300.1 L41,302.3 L41.8,304 L43.5,305 L43.5,307.2 L45,308.4 L46.9,308.5 L48.5,309.6 L50.1,310.4 L52.1,312.4 L54,313 L55.1,314.5 L56.1,316.1 L57,317.7 L58.5,318.5 L60.1,319.1 L61.3,320.3 L62.5,321.5 L63.1,323.1 L65,324.6 L65.1,327.1 L66.8,328.4 L68.1,330.1 L69.7,331.6 L71.2,333.2 L72.7,334.7 L74.2,336.2 L76.2,337.2 L78.2,338.2 L80,338.7 L81.2,340.2 L84.2,341.2 L87.2,341.6 M36,311.4 L36.7,313.1 L37.4,314.7 L38,316.4 L36.8,318 L37,320 M32,249.5 L31.5,251.5 L33,253 M45,308.4 L43.7,309.4 L42.6,310.5 L41,311.1 L39,312.1 L37,313.1 L37,316.1 L38.3,317.4 L39,319.1 L40.8,320.3 L42,322.1 L43.6,323.4 L45.1,324.7 L47,325.5 L48.1,327.1 L49.2,328.7 L50.8,329.7 L52.1,331.1 L53.3,332.2 L54.8,333.1 L56.1,334.2 L58,334.9 L59.7,335.8 L61.1,337.2 L62.2,338.5 L63.3,339.7 L64.1,341.2 L65.4,342.3 L66.8,343.2 L68.1,344.2 L70.1,344.2 L71.5,345.6 L73.2,346.2 L75.5,346.5 L77.2,348.2 L78.7,348.9 L80,350.1 L81.2,351.2 L83.3,351.3 L84.2,353.2 M87.2,341.6 L86.2,343.4 L85.2,345.2 L84.8,347.2 L84.6,349.2 L84.5,351.2 L84.2,353.2 M87.2,341.6 L90.2,342.2 L91.2,345.2 L90.4,346.4 M90.4,346.4 L91.5,345 L92.9,344 L94.5,343.4 L96.1,343.2 L98,342.3 L100.1,342.4 L101.8,343.5 L103.3,344.8 L105.5,345.7 L107.3,347.2 L108.6,348.3 L110.4,348.8 L111.3,350.4 L111.6,352.5 L112.1,354.5 L109.7,356.1 L107.7,355.6 L105.7,355.3 L104.1,355.1 L102.5,355 L100.9,354.5 L99.3,353.9 L97.5,354.9 L96.1,353.7 L94.1,352.6 L92,352 L90.4,349.6 L90.5,348 L90.4,346.4 M111.3,350.4 L113.3,350.2 L115.3,349.6 L117,349 L118.4,347.7 L120.2,347.2 L122.1,345.9 L124.2,344.8 L126.3,344.3 L128.2,343.2 L130.2,343 L132.2,342.4 L134.2,342.9 L136.2,343.2 L138.4,342.8 L140.2,344 L142,345 L142.8,346.5 L144,347.6 L143.7,349.4 L144.6,350.9 L146.6,352.8 M146.6,352.8 L148.3,353 L149.8,352.2 L151.8,354.1 L152,355.8 L152.4,357.4 L154.1,358.2 L154.4,360 L155.7,362 L155.5,364 L156.4,365.9 L156.1,367.9 L155.7,369.8 L155.9,372.4 L153.7,373.7 L152.3,374.9 L151.1,376.3 L150.3,378 L148.5,378.3 L146.6,380.2 L145.3,382.9 L145.5,385 L144.3,386.8 L145.9,388.1 L147.9,387.8 L149.8,388.1 L150.6,389.9 L152.4,390.7 L153,392.6 L153.1,394.6 L153.3,396.6 L153.7,398.5 L154.3,401 L156.4,402.4 L157.1,404.4 L159,405.1 L160,406.8 L161.1,408.5 L162,410.3 L163.3,409.1 L165.1,409.3 L167.1,411.3 L168.9,412.5 L170.1,414.3 L170.7,412.7 L171,411 L171.1,409.3 L171.7,407.3 L172.1,405.2 L174.2,405.2 L176.1,404.2 L178.2,404.3 L180.1,405.2 L182.1,404.7 L184.1,404.2 L186.1,405.1 L188.2,405.2 L190.3,405 L192.2,404.2 L194.5,403.7 L196.2,402.2 L199.2,403.2 L200.6,404.4 L202.2,405.2 L204.2,405.5 L206.2,406.2 L207,407.9 L208.2,409.3 L209.2,411.2 L209.2,413.3 L211.2,413.5 L212.2,415.3 L214.2,416.1 L216.3,416.3 M170.1,414.3 L171.5,415.3 L172.7,416.4 L174.1,417.3 L176,417.6 L176.9,419.1 L178.1,420.3 L180,422 M162,410.3 L160.9,411.6 L159.6,412.7 L158,413.3 L158,415.3 L156.1,415.9 L154.6,416.7 L154,418.3 L151.9,419.1 L150,420.3 L148,422 M146.6,352.8 L145.9,354.6 L144.6,356 L143.5,358.5 L140.7,359.4 L138.8,360.1 L136.8,360.7 L134.6,361.7 L132.9,363.3 L130.9,365.2 L131.7,367.4 L129.6,368.5 L128.7,369.8 L127.6,371.1 L125.7,373.1 L126.3,375 L125.1,376.1 L124.4,377.6 L123.1,378.7 L122.4,380.2 L120.5,382.2 L118.5,382.9 L116.5,381.6 L114.6,380.2 L113.9,382.9 L112.6,385.5 L111.3,388.1 L110,390.7 L108.7,393.3 L107.4,395.3 L106.1,396.6 M86,353.4 L85.3,356.2 L83.2,358.3 L83.9,360.4 L86,361.8 L86.7,363.9 L84.6,365.3 L81.8,366 L79.7,368.1 L79.1,370 L80.4,371.6 L81.8,374.4 L81.5,376.3 L82.5,377.9 L82,379.6 L81.8,381.4 L82.5,384.2 L81.8,387 M88.8,352 L88.6,354.1 L88.8,356.2 L90.2,359 L93,360.4 L94.4,363.2 L93,366 L95,367.1 L97.2,367.4 L99.4,367.8 L101.4,368.8 L103.5,369.5 L105.6,370.2 L107.3,371 L109.1,370.9 L109.8,372.3 L107.7,374.4 L105.4,374.5 L104.2,376.5 L102.1,378.6 L100.7,380.7 L100,382.8 L100.7,384.2 L99.3,385.6 M101.4,381.4 L104.2,380.7 L106.3,381.4 L106.3,384.2 L105.6,387 L105.7,389.1 L105.6,391.2 L105.3,393.3 L104.9,395.4 L103.5,398.2 M106.3,381.4 L108.4,382.1 L110.5,380.7 L113.3,380 L114.6,380.2 M93,379.3 L94.4,381.4 L93.7,384.2 L94.4,387 M32,406.2 L34,405.3 L36,404.2 L38.3,403.9 L40,402.2 L41.5,401.3 L43.4,401.2 L44.3,399.2 L46.1,398.8 L48.1,397.9 L50.1,397.2 L52.1,396.9 L54.1,396.8 L56.3,396.2 L58.1,394.8 L60.4,394 L62.1,392.2 L62.4,390.2 L64.1,389.2 L65.4,388 L67.1,387.8 L68.6,387.1 L70,386 L70.7,384.2 L72,382.8 L73.4,385.6 L74.1,388.4 L76.2,389.8 L78.4,389.3 L80.4,390.5 L82.6,390.7 L84.6,389.8 L87.4,390.5 L89.5,390.4 L91.6,389.8 L93.2,389 L94.4,387.7 L97.2,387 L99.3,386.3 L100,388.4 L100.6,390.5 L100.7,392.6 L100.5,394.8 L101.4,396.8 L102.2,398.9 L102.8,401 L104.2,403.8 L105.6,406.6 L105.7,408.9 L107,410.8 L108.2,412.7 L108.4,415 L109.1,417.8 L109.9,419.8 L109.8,422 M74,388.5 L75.5,386.5 L76.1,388.1 L77,389.5 L78.5,387 L79.6,388.3 L80,390 L81.5,387.5 L83,390 L84.1,388.7 L84.5,387 L85.1,388.6 L86,390 L87.5,387.5 L88.7,388.8 L89,390.5 L89.8,388.5 L90.5,386.5 L91.4,387.9 L92,389.5 L93,388 L92.7,386.1 L93.5,384.5 M308.9,303.7 L307.8,305.3 L306.4,306.6 L304.2,308.7 L302.6,309.7 L302,311.5 L299.9,312.1 L299.8,314.2 L297.8,315.2 L297.6,317.5 L298.7,319.1 L300.3,319.9 L302,320.7 L304.2,322.9 L304.9,324.6 L305.8,326.2 L305.9,328.2 L307.5,329.5 L308.3,330.9 L309.4,332.1 L309.7,333.8 L310.7,335.5 L311.8,337.1 L312.7,338.6 L314,339.8 L315.7,342 L315.7,344.8 L316.2,346.9 L315.1,349.1 L312.9,350.2 L310.7,351.3 L308.6,352.4 L306.4,353.5 L304.2,354 L306,354.6 L307.9,353.7 L310,353.6 L312,352.8 L314,353.8 L315.8,353.4 L317.3,354.6 L318.4,355.7 L317.3,356.5 L316.3,358.1 L315.4,360 L315.3,362.1 L314.7,364.3 L313.3,366.1 L312.4,368.1 L311.3,370.1 L310.2,372 L309.3,374.1 L308,375.3 L307.4,376.9 L306.3,378.2 L305.1,379.4 L304.7,381.2 L303.3,382.2 L302.4,383.7 L301.7,385.2 L300.2,386.2 L298.6,387.9 L298.2,390.2 L296.9,391.5 L295.8,393.2 L294.2,394.2 L293,395.4 L291.6,396.3 L290.2,397.2 L288.6,397.9 L288.1,399.9 L286.2,400.2 L285.2,401.7 L283.7,402.4 L282.2,403.3 L279.8,403.1 L278.5,404.8 L277.1,406.3 L275.5,407.4 L273.6,408 L272.1,409.3 L270,408.9 L268.8,410.8 L267.1,411.3 L265.5,412 L263.6,411.6 L262.1,412.7 L260.4,412.6 L258.7,412.7 L257.1,413.3 L255.9,412 L255.1,410.3 L253.6,412 L254.1,414.3 L251.7,414.2 L250,415.9 L248.2,416.1 L246.6,416.5 L245,417.3 L243.6,418.8 L241.6,417.9 L240,418.7 L238.1,418.9 L236.2,418.6 L234.3,418.9 L232.3,418.3 L230.3,418.7 L228.3,418.3 L226.1,418.7 L224.3,417.3 L222.4,416.3 L220.3,415.7 L218.4,416.4 L216.3,416.3 M300.9,338.2 L302.6,338.8 L304.2,339.8 L305.9,339.8 L307.5,340.4 L309.2,340.8 L310.7,341.5 L313.5,342.6 L315.7,343.7 M314.3,393.2 L316.3,395.2 L317.2,397.1 L315,398.4 L315.3,400.2 L314.7,401.7 L313.7,403.1 L312.8,404.4 L313.3,406.3 L312.5,407.8 L312.7,409.7 L311.5,411 L310.3,412.3 L310.6,414.1 L309.9,415.7 L309.3,417.3 L307.3,415.3 L306.7,413.3 L304.9,411.6 L305.3,409.3 L305.2,407.6 L303.8,406.1 L304.3,404.3 L305.1,402.7 L305.6,400.9 L306.3,399.2 L307.2,397.8 L308.3,396.5 L309.3,395.2 L310.6,394 L312.3,393.2 L314.3,393.2 M366.3,366 L367.6,364.5 L369.3,363.5 M356.8,383.6 L356.8,381.2 L358.5,379.5 L360,378.4 L361.5,377.3 M374.5,347.5 L376.3,346.6 L376.5,344.5 M304.4,171.7 L306.5,171.5 L307.7,170.1 L308.7,168.5 L310.4,168.6 L311.9,167.6 L313.8,168.5 L315.3,167.4 L316.9,167.4 L318.6,167.4 L320.2,167.2 L321.8,167.4 L323.4,168 L325.2,168.2 L326.8,168.9 L328.4,169.5 L330.2,170.1 L331.4,171.5 L332.7,172.8 L332.3,175.1 L334.2,176.5 L334.9,178.3 L335.8,179.9 L336.3,181.7 L337,183.4 L338.2,184.8 L339.6,186.2 L340,188 L340.2,190 L341.5,191.4 L342.1,193.3 L342.8,195 L343.6,196.8 L344.7,198.3 L346.7,197.9 L348,199 L349.8,199.8 L351.8,200.2 L353.5,201.2 L354.6,202.7 L356.9,201.7 L357.8,203.4 L359.2,204.8 L360,206.6 L360.8,208.7 L361.1,211 L363.2,211.9 L365.5,212.1 L367.2,211.9 L369,211.7 L370.1,209.6 L372,209.9 L374,209.5 L375.6,208.3 L377.5,207.7 L378.8,205.8 L380.7,204.5 L381,206.7 L381.8,208.8 L382.2,210.5 L382.6,212.2 L381.6,213.8 L381.2,215.4 L381.9,217.1 L381.3,218.7 L380.6,220.3 L380.7,221.9 L379.8,223.7 L378.5,225.3 L378.6,227.4 L377,229.1 L375.3,230.6 L374.1,232.4 L372,232.8 L370.3,234.3 L368.2,235 L366.6,232.4 M396,121.2 L394.5,122.1 L393.7,123.9 L392.6,125.5 L390.9,126.6 L390,128.4 L389.8,130.4 L389.8,132.5 L388.1,134 L386.9,135.6 L386.4,137.6 L385.4,139.4 L384.3,140.7 L383.5,142.1 L382.3,143.3 L381.7,144.9 L380.5,146.1 L378.8,146.9 L378.1,148.6 L376.6,149.3 L375.4,150.4 L377.2,152.2 L379.4,152.9 L381.7,153.1 L383.6,153.3 L385.5,153 L387.8,152.2 L390,153.1 L392.2,152.3 L394.4,151.6 L396.5,151.1 L398.7,150.9 L400.1,152.1 L401.6,153.1 L403.6,154 L404.5,156 L405.5,157.8 L407.5,158.2 L408.9,160.4 L409.6,161.9 L410.4,163.3 L411.4,165.3 L411.1,167.6 L411.2,170.1 L409.6,172 L409.5,174 L409.2,175.9 L408.9,177.8 L409.5,179.7 L409.3,181.7 L409.6,183.6 L410.2,185.5 L409.8,187.6 L410.4,189.5 L410.8,191.4 L410.4,193.4 L410.4,195.3 L409.4,197.1 L408,198.8 L408.9,201.1 L408.7,202.8 L407.7,204.1 L407.1,205.7 L406,206.9 L404.9,208.7 L405.1,211 L403.8,212.7 L403.5,214.4 L402.7,215.9 L402.6,217.6 L401.5,219 L401.2,220.7 L400.2,222.1 L400.3,224 L398.5,225 L398.2,226.9 L396.7,228.1 L395.4,229.5 L394.5,231 L393.9,232.5 L394.1,234.4 L392.8,235.6 L391.5,236.8 L391,238.3 L390.6,239.9 M384,146.6 L386,145.5 L387,148 L385,149.5 L384,146.6 M387,152 L389,150.5 L389.5,152.2 L390,154 L388,155 M391,156 L393,154 L393.9,155.6 L393.8,157.5 M396,121.2 L397.1,119.6 L397.3,117.6 L397.8,115.7 L398.8,114.1 L400,112.5 L401.6,111.3 L401.9,109.4 L403.3,108 L403.6,106.1 L405.3,105 L407.4,104.8 L409,103.4 L410.8,102.9 L412.6,103 L414.5,104.2 L416.2,103.1 L418,102.5 L419.9,100.7 L421.7,100.1 L423.5,100.1 L425.3,99.8 L427.2,99.1 L429.2,98.6 L430.7,97.1 L432.5,95.3 L434.2,94.6 L436.1,94.4 L437.8,93.2 L439.7,93.6 L441.6,93.5 L442.5,95.3 L443.4,97.1 L445.2,98.9 L447,97.1 L448.8,96.6 L450.8,96.6 L452.4,95.3 L454.2,93.5 L456,93.2 L457.8,92.6 L459.6,90.8 L457.8,89 L456.1,88.1 L454.2,88.1 L453.2,86.4 L453.3,84.5 L454.4,82.8 L455.6,81.2 L455.1,79 L456.4,77.4 L457,75.5 L457.8,73.6 L458.8,72.3 L459.6,70.9 M485,71.8 L483.6,73.3 L484.5,75.5 L483.6,77.2 L483.1,79 L482.3,80.4 L481.5,81.9 L481.5,83.6 L480.5,85 L480.2,86.6 L479.5,88.1 L478.7,89.5 L478.1,91 L477.9,92.7 L476.6,93.9 L475.9,95.3 L474.4,96.2 L473.9,98.1 L472.3,98.9 L472,100.7 L471.4,102.5 L470.9,104.3 L471.7,106.2 L470.9,107.9 L471.5,109.8 L470.1,111.5 L469.4,113.3 L470.5,115.2 L469.8,117.2 L471.3,118.8 L471.2,120.7 L471.9,122.4 L472.3,124.2 L473,125.7 L473,127.5 L475.1,128.2 L474.7,130.2 L475.9,131.4 L477,132.8 L477.4,134.8 L479.1,135.8 L480.5,137 L481.3,138.7 L481.9,140.2 L482.4,141.8 L483.4,143 L483.9,144.6 L484.9,145.9 L486.1,147.6 L486.7,149.5 M484.5,161.9 L486,163.4 L484.7,165.4 L485.5,167 L484.8,168.6 L484.8,170.3 L484.5,172 M413.3,148 L412.9,149.8 L412.5,151.6 L411.6,153.7 L411.8,156 L411.8,158 L411.7,159.9 L411.1,161.8 L411.4,163.7 L410.9,165.7 L411.8,167.6 L413.2,168.7 L412.7,170.8 L414,172 L415.1,173.8 L416,175.7 L416.2,177.8 L416,179.9 L417.2,181.7 L417.6,183.6 L418.8,185.4 L418.8,187.5 L419.1,189.5 L418.8,191.5 L418.9,193.4 L419.8,195.3 L420.5,197.2 L420.6,199.2 L421.3,201.1 L421.4,203.1 L422.6,204.9 L422.7,206.9 L423,208.9 L423.7,210.8 L424.2,212.7 L424.8,214.5 L424.9,216.4 L425.4,214.4 L426.4,212.7 L427.8,211.3 L430,209.8 L431.5,211.3 L432.2,214.2 L431.5,211.3 L430,209.8 L428.5,208.4 L427.1,206.9 L425.6,205.5 L424.6,203.4 L424.2,201.1 L424,199.2 L424.8,197.2 L424.2,195.3 L424.6,193.4 L425.1,191.5 L424.9,189.5 L426.4,188 L428.3,189.4 L430.7,189.5 L432,190.8 L433.6,191.6 L433.7,189.3 L431.3,188.4 L430.7,186.5 L430.1,184.8 L428.6,183.7 L427.8,182.2 L428,180.3 L427.2,178.9 L424.7,178.3 L424.9,176.4 L423.7,175.2 L423.8,173.3 L423.1,171.8 L422,170.5 L421.6,168.4 L420.5,166.6 L419.8,164.7 L419.6,162.7 L419.2,160.7 L418.4,158.9 L417.6,156.7 L416.9,154.5 L416.7,152.8 L415.5,151.6 L413.6,150.3 L414,148 L413.3,148 M447,229.5 L448.3,228.4 L448.5,226.5 L450,225.5 M451,224.5 L452.7,223.4 L453.6,221.4 L455,220 L455.9,218.2 L457.7,217.1 L458.4,215.2 L460,214 M465.5,208.5 L466.2,206.8 L467.1,205.2 L468.9,204.4 L470,203 M475,196.2 L476.2,194.7 L477,193 M446.5,231 L447.5,229.4 L447.5,227.5 L449,229 M452.5,223 L453.8,221.8 L455.5,221.1 L456.5,219.5 M424.6,220.5 L426.3,221.8 L428.1,223.1 L429.5,224.1 L430.6,225.4 L432.1,226.1 L433.8,227.6 L436.1,228.1 L439.1,229.1 L442.1,228.6 L443.2,227.5 L444.6,226.6 L445.1,229.1 L446.1,231.1 L448.7,232.6 L449.2,233.6 L447.1,234.6 L445.7,235.5 L444.1,236.1 L442.6,236.9 L441.1,237.6 L440.1,238.8 L439.1,240.1 L438.1,243.1 L437.1,246.1 L434.1,245.1 L432,245.1 L430.1,244.1 L427.1,243.1 L425.1,244.6 L423.1,246.1 L421,247.1 L420,249.2 L421.5,251.2 L423.6,250.2 L422,248 L420.9,246.1 L419,245.1 L418,242.1 L419.5,239.6 L421.3,239.1 L423.1,239.1 L425.1,237.1 L425.4,235.1 L425.1,233.1 L424.9,231 L425.6,229.1 L425.3,227.1 L424.6,225.1 L424.3,223.5 L423.6,222 L424.6,220.5 M371.1,320.3 L372.1,318.3 L373.4,316.6 L375.1,315.3 L377.1,315.2 L377.9,313.5 L379.1,312.3 L381,312.1 L382.1,310.7 L383.1,309.3 L384.6,308 L386.3,307.1 L388.1,306.3 L389.8,306.2 L391.5,305.7 L393.2,305.3 L394.9,305 L396.5,304.5 L398.2,304.3 L399.7,302.4 L402.2,302.2 L403.1,300.1 L404.2,298.2 L403.7,296.1 L405.7,294.9 L406.2,293.2 L406.3,291.1 L407.2,289.2 L408.5,287.9 L410.2,287.2 L412.1,286.1 L414.2,285.2 L415.8,283.8 L417.2,282.2 L417,280.4 L417.3,278.8 L418.2,277.4 L419.3,276.1 L418.6,274.2 L419.6,272.8 L421.3,271.5 L420.3,269.6 L421.3,268.1 L421.9,266.5 L421,264.8 L422.1,263.3 L421.9,261.7 L422.3,260.1 L421.9,258.1 L421.9,256 L421.3,254.1 L424.3,255.1 L427.3,256.1 L428.3,257.9 L430.3,258.1 L431.2,259.5 L432.2,260.8 L433.3,262.1 L434.2,264 L433.7,266.2 L434.3,268.1 L434.1,270.1 L433.2,272 L433.3,274.1 L433,276.1 L431.7,278 L432.3,280.2 L433,282.4 L431.8,284.2 L431.3,286.2 L431.2,288.3 L432.2,290.2 L432.3,292.2 L432.7,293.9 L432.4,295.5 L432.3,297.2 L431.9,299.1 L430.3,300.2 L428.8,301.1 L427.3,302.2 L425.1,302.2 L424.2,303.8 L423.3,305.3 L421.6,306.8 L419.3,307.3 L417.5,308.7 L415.2,309.3 L412.2,308.3 L409.2,309.3 L408.2,312.3 L407.4,314.1 L405.7,315.3 L405.2,317.3 L404.6,319.1 L403.2,320.3 L402.2,317.3 L400.9,316 L400.2,314.3 L398.2,312.3 L396.1,312.3 L394.2,313.3 L392,313.5 L390.1,314.7 L388.5,315.3 L386.9,316.1 L385.1,315.9 L383.4,317.4 L381.1,317.3 L379.3,318.6 L377.1,319.3 L374.1,320.3 L371.1,320.3 M343.6,290.9 L345.4,289 L348,289.5 L350,289.3 L351.6,288 L353.6,287.8 M381.1,320.3 L383.2,319.5 L385.1,318.3 L387,319 L388.6,318.3 L390.1,317.3 L391.6,316 L393.7,316.4 L395.2,315.3 L398.2,315.9 L397.6,317.6 L398.2,319.3 L397,321.1 L395.2,322.3 L394.1,323.7 L392.5,324.3 L391.1,325.3 L390.3,327 L387.9,326.7 L387.1,328.4 L384.1,327.3 L382,326.5 L382.1,324.3 L381,322.4 L381.1,320.3 M366,326.3 L367.5,325.2 L369.1,324.3 L371.1,323.7 L373.1,323.3 L375.1,323.9 L377.1,324.3 L378.5,325.4 L380.1,326.3 L379.7,328.4 L379.1,330.4 L377.5,332.1 L377.1,334.4 L377.7,336.7 L376.1,338.4 L375.6,340.4 L375.1,342.4 L375,344.5 L374.1,346.4 L372.1,344.4 L371.2,342.4 L370.1,340.4 L369.2,338.3 L368.1,336.4 L366.6,334.6 L366,332.4 L365.2,330.5 L365,328.4 L366,326.3 M415.4,280.2 L416.4,279.5 L415.9,282 L415.4,280.2 M363.8,316.6 L364.8,314.8 L364.1,316.6 L364.2,318.5" fill="none" stroke="#6097d2" stroke-width="1.15" stroke-linejoin="round" stroke-linecap="round"/>
</g>
<g font-family="Liberation Sans, sans-serif" font-size="13.2" fill="#6097d2">
<text x="74.8" y="130.9">75</text>
<text x="146.8" y="156.9">90</text>
<text x="217.4" y="172.3">105</text>
<text x="293.4" y="175.9">120</text>
<text x="369.2" y="170.60000000000002">135</text>
<text x="443.2" y="154.8">150</text>
<rect x="328" y="103.1" width="17.1" height="11.5" fill="#fff"/>
<text x="329" y="113.39999999999999">60</text>
<rect x="336.9" y="229.3" width="17.1" height="11.5" fill="#fff"/>
<text x="337.9" y="239.60000000000002">45</text>
<rect x="346.9" y="347.7" width="17.1" height="11.5" fill="#fff"/>
<text x="347.9" y="358.0">30</text>
</g>
<path d="M299.4,340.6 L300.3,343.3 L303.2,343.4 L300.9,345.1 L301.8,347.8 L299.4,346.2 L297,347.8 L297.9,345.1 L295.6,343.4 L298.5,343.3Z" fill="#000"/>
<path d="M218,240.5 L220.9,249.5 L224.5,259.7 L228.9,268.5 L232.1,273.1 L236.2,278.6 L242,285.9 L249.3,294.6 L257.6,303.5 L263.8,309.9 L268,315 L274,322 L278,326.4 L284.1,332.6 L290.1,338.1 L295,345" fill="none" stroke="#0000ee" stroke-width="2"/>
<rect x="229.9" y="270.7" width="4.4" height="4.4" fill="#0000ee"/>
<rect x="254.3" y="300.2" width="6.6" height="6.6" fill="#0000ee"/>
<rect x="275.8" y="324.2" width="4.4" height="4.4" fill="#0000ee"/>
<rect x="291.7" y="341.7" width="6.6" height="6.6" fill="#0000ee"/>
<path d="M281.9,129.9 L278.5,146.2 L274.9,163.6 L270.5,181.1 L264.7,194.9 L260.6,207.5 L255.8,221.9 L251.5,235 L250,243.7 L249,252.5 L249,259.5 L250,269.9 L252.2,278.6 L256.4,288 L260.9,297 L265.5,303 L270.7,309.7 L281.6,324.2 L291.2,336.2 L296.3,342.7" fill="none" stroke="#00ee00" stroke-width="2"/>
<circle cx="264.7" cy="195" r="2.2" fill="#00ee00"/>
<circle cx="249" cy="259.5" r="3.5" fill="#00ee00"/>
<circle cx="270.7" cy="309.7" r="2.1" fill="#00ee00"/>
<circle cx="296.3" cy="342.7" r="3.6" fill="#00ee00"/>
<path fill-rule="evenodd" d="M293.6,346.6 C291,347.5 289,349.5 288.8,351.5 C288.8,353.5 290.5,354.3 293,354.2 C295.5,354.1 297,353 298.5,352.2 C300.5,351.8 302,351.2 301.8,349.8 C301.5,348.6 300,348.4 298.6,348.8 L297.5,348.2 C296.5,347.2 295,346.5 293.6,346.6 Z M298.3,349.4 A2.3,1.3 0 1 0 293.7,349.4 A2.3,1.3 0 1 0 298.3,349.4 Z" fill="#ee0000"/>
<path d="M32.6,70.6 H486.7 V537.8 H32.6 Z M32.6,421.3 H486.7" fill="none" stroke="#000" stroke-width="1.3"/>
<path d="M77.8,435.5 H434.6" stroke="#8a8a8a" stroke-width="1.3" stroke-dasharray="6.6 6.4"/>
<path d="M77.8,450.1 H434.6" stroke="#8a8a8a" stroke-width="1.3" stroke-dasharray="6.6 6.4"/>
<path d="M77.8,464.8 H434.6" stroke="#8a8a8a" stroke-width="1.3" stroke-dasharray="6.6 6.4"/>
<path d="M77.8,479.4 H434.6" stroke="#8a8a8a" stroke-width="1.3" stroke-dasharray="6.6 6.4"/>
<path d="M77.8,494.0 H434.6" stroke="#8a8a8a" stroke-width="1.3" stroke-dasharray="6.6 6.4"/>
<g font-family="Liberation Sans, sans-serif" font-size="13" fill="#000">
<text x="449" y="440.1">5000</text>
<text x="449" y="454.70000000000005">4000</text>
<text x="449" y="469.40000000000003">3000</text>
<text x="449" y="484.0">2000</text>
<text x="449" y="498.6">1000</text>
<text x="41.3" y="476.6">2500</text><text x="42" y="490.9">1500</text><text x="49.2" y="512">50</text>
</g>
<path d="M32.7,508.7 H486.5" stroke="#000" stroke-width="1.5"/>
<path d="M92.3,508.7 V514" stroke="#000" stroke-width="0.8"/>
<path d="M179.7,508.7 V514" stroke="#000" stroke-width="0.8"/>
<path d="M266.3,508.7 V514" stroke="#000" stroke-width="0.8"/>
<path d="M353.8,508.7 V514" stroke="#000" stroke-width="0.8"/>
<g font-family="Liberation Sans, sans-serif" font-size="11.2" fill="#000" text-anchor="middle">
<text x="92.3" y="523.9">00</text>
<text x="179.7" y="523.9">12</text>
<text x="266.3" y="523.9">00</text>
<text x="353.8" y="523.9">12</text>
<text x="92.3" y="535.5">04/24</text><text x="266.5" y="535.5">04/23</text>
</g>
<path d="M84.7,508 L92.3,508 L179.7,507 L216.2,507.4 L266.3,507.4 L353.9,508 L434.6,508.2" fill="none" stroke="#ee0000" stroke-width="2"/>
<path d="M89.5,509.5 L92.3,504.8 L95.1,509.5Z" fill="#ee0000"/>
<path d="M176.89999999999998,509.5 L179.7,504.8 L182.5,509.5Z" fill="#ee0000"/>
<path d="M263.5,509.5 L266.3,504.8 L269.1,509.5Z" fill="#ee0000"/>
<path d="M351.09999999999997,509.5 L353.9,504.8 L356.7,509.5Z" fill="#ee0000"/>
<path d="M84.7,486.6 L92.3,486.5 L160,482.4 L179.7,481.3 L216.2,479.9 L244.3,479 L266.3,479 L290,479.1 L320.1,477.2 L353.9,475.1 L380.4,474.2 L404.5,472.7 L422.5,471.8 L434.6,472" fill="none" stroke="#0000ee" stroke-width="2"/>
<rect x="89.1" y="482.8" width="6.8" height="6.8" fill="#0000ee"/>
<rect x="177.39999999999998" y="479.0" width="4.6" height="4.6" fill="#0000ee"/>
<rect x="262.90000000000003" y="475.6" width="6.8" height="6.8" fill="#0000ee"/>
<rect x="351.59999999999997" y="472.8" width="4.6" height="4.6" fill="#0000ee"/>
<path d="M84.7,472.3 L92.3,471.4 L130,464.8 L160,460.8 L179.7,457.4 L202.2,453.7 L221.9,449.5 L238.7,445.3 L252.8,443.1 L266.3,442.5 L278.1,441.1 L292.1,439.1 L320.1,436.6 L335.2,435.1 L353.9,433.6 L368.3,430.5 L389.4,428.4 L410.5,426.6 L434.6,424.3" fill="none" stroke="#00ee00" stroke-width="2"/>
<circle cx="92.3" cy="471.2" r="3.7" fill="#00ee00"/>
<circle cx="179.7" cy="457.4" r="2.2" fill="#00ee00"/>
<circle cx="266.3" cy="442.5" r="3.7" fill="#00ee00"/>
<circle cx="353.9" cy="433.6" r="2.2" fill="#00ee00"/>
<path d="M84.7,467.6 L85.9,471 L89.5,471.1 L86.6,473.2 L87.6,476.6 L84.7,474.6 L81.8,476.6 L82.8,473.2 L79.9,471.1 L83.5,471Z" fill="#000"/>
<path d="M84.7,482 L85.9,485.4 L89.5,485.5 L86.6,487.6 L87.6,491 L84.7,489 L81.8,491 L82.8,487.6 L79.9,485.5 L83.5,485.4Z" fill="#000"/>
<path d="M84.7,503.2 L85.9,506.6 L89.5,506.7 L86.6,508.8 L87.6,512.2 L84.7,510.2 L81.8,512.2 L82.8,508.8 L79.9,506.7 L83.5,506.6Z" fill="#000"/>
<g font-family="Liberation Sans, sans-serif" font-size="14.6" fill="#000">
<text transform="translate(23.7,323.59999999999997) rotate(-90)" textLength="48.599999999999966" lengthAdjust="spacingAndGlyphs">Source</text>
<text transform="translate(23.7,246.4) rotate(-90)" textLength="11.0" lengthAdjust="spacingAndGlyphs">at</text>
<text transform="translate(23.7,221.8) rotate(-90)" textLength="34.599999999999994" lengthAdjust="spacingAndGlyphs">31.50</text>
<text transform="translate(23.7,184.9) rotate(-90)" textLength="11.800000000000011" lengthAdjust="spacingAndGlyphs">N</text>
<text transform="translate(23.7,159.3) rotate(-90)" textLength="44.80000000000001" lengthAdjust="spacingAndGlyphs">119.21</text>
<text transform="translate(23.7,110.5) rotate(-90)" textLength="9.699999999999989" lengthAdjust="spacingAndGlyphs">E</text>
<path d="M20.6,262.1 L21.8,265.3 L25.2,265.4 L22.5,267.5 L23.4,270.8 L20.6,268.9 L17.8,270.8 L18.7,267.5 L16,265.4 L19.4,265.3Z" fill="#000"/>
<text transform="translate(24.2,500.5) rotate(-90)" textLength="79.60000000000002" lengthAdjust="spacingAndGlyphs">Meters AGL</text>
</g>
</svg>
</body></html>
